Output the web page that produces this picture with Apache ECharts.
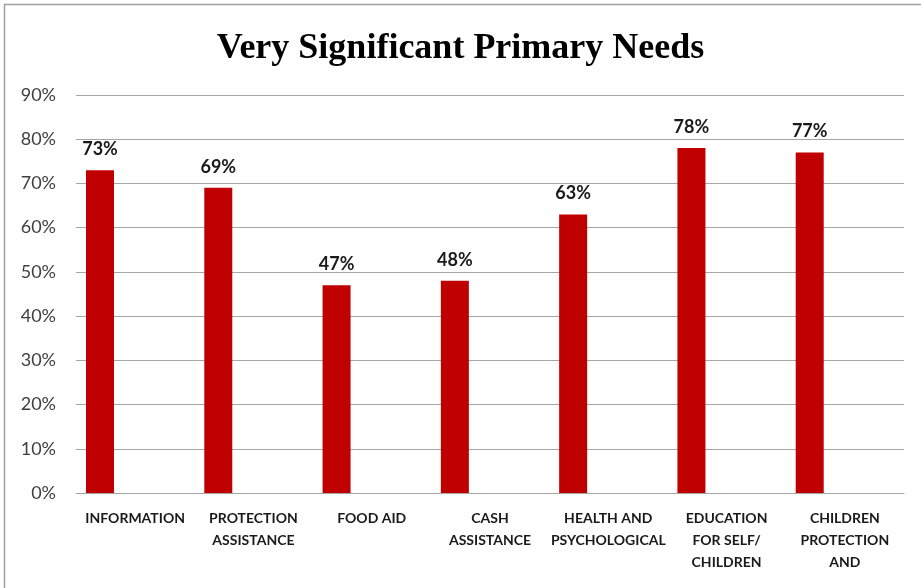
<!DOCTYPE html>
<html>
<head>
<meta charset="utf-8">
<script src="https://cdn.jsdelivr.net/npm/echarts@6/dist/echarts.min.js"></script>
<style>
  html, body { margin: 0; padding: 0; background: #fff; }
  #chart { width: 921px; height: 588px; }
</style>
</head>
<body>
<div id="chart"></div>
<script>
// Share of respondents rating each need as very significant (percent)
const categories = [
  'INFORMATION',
  'PROTECTION\nASSISTANCE',
  'FOOD AID',
  'CASH\nASSISTANCE',
  'HEALTH AND\nPSYCHOLOGICAL',
  'EDUCATION\nFOR SELF/\nCHILDREN',
  'CHILDREN\nPROTECTION\nAND'
];
const verySignificant = [73, 69, 47, 48, 63, 78, 77];
// Empty companion series: keeps each bar in the left slot of its category
const companion = categories.map(() => '-');

const chart = echarts.init(document.getElementById('chart'));
chart.setOption({
  backgroundColor: '#ffffff',
  animation: false,
  title: {
    text: 'Very Significant Primary Needs',
    left: 'center',
    top: 26,
    textStyle: {
      fontFamily: 'Liberation Serif',
      fontWeight: 'bold',
      fontSize: 36,
      color: '#000000'
    }
  },
  graphic: [{
    type: 'rect',
    silent: true,
    shape: { x: 4.5, y: 4.5, width: 1000, height: 1000 },
    style: { fill: 'none', stroke: '#a0a0a0', lineWidth: 1.5 }
  }],
  grid: { left: 76, right: 17, top: 95, bottom: 95 },
  xAxis: {
    type: 'category',
    data: categories,
    axisTick: { show: false },
    axisLine: { lineStyle: { color: '#a6a6a6', width: 1 } },
    axisLabel: {
      interval: 0,
      margin: 14,
      lineHeight: 22,
      fontFamily: 'Lato',
      fontWeight: 'bold',
      fontSize: 14,
      color: '#1a1a1a'
    }
  },
  yAxis: {
    type: 'value',
    min: 0,
    max: 90,
    interval: 10,
    axisLine: { show: false },
    axisTick: { show: false },
    axisLabel: {
      formatter: '{value}%',
      margin: 20,
      fontFamily: 'Lato',
      fontSize: 18,
      color: '#404040'
    },
    splitLine: { lineStyle: { color: '#a6a6a6', width: 1 } }
  },
  series: [
    {
      name: 'Very significant',
      type: 'bar',
      data: verySignificant,
      barWidth: 28,
      barGap: '151%',
      itemStyle: { color: '#c00000' },
      label: {
        show: true,
        position: 'top',
        distance: 12,
        formatter: '{c}%',
        fontFamily: 'Lato',
        fontWeight: 'bold',
        fontSize: 18,
        color: '#1a1a1a'
      }
    },
    {
      name: 'companion',
      type: 'bar',
      data: companion,
      barWidth: 28,
      itemStyle: { color: 'transparent' }
    }
  ]
});
</script>
</body>
</html>
